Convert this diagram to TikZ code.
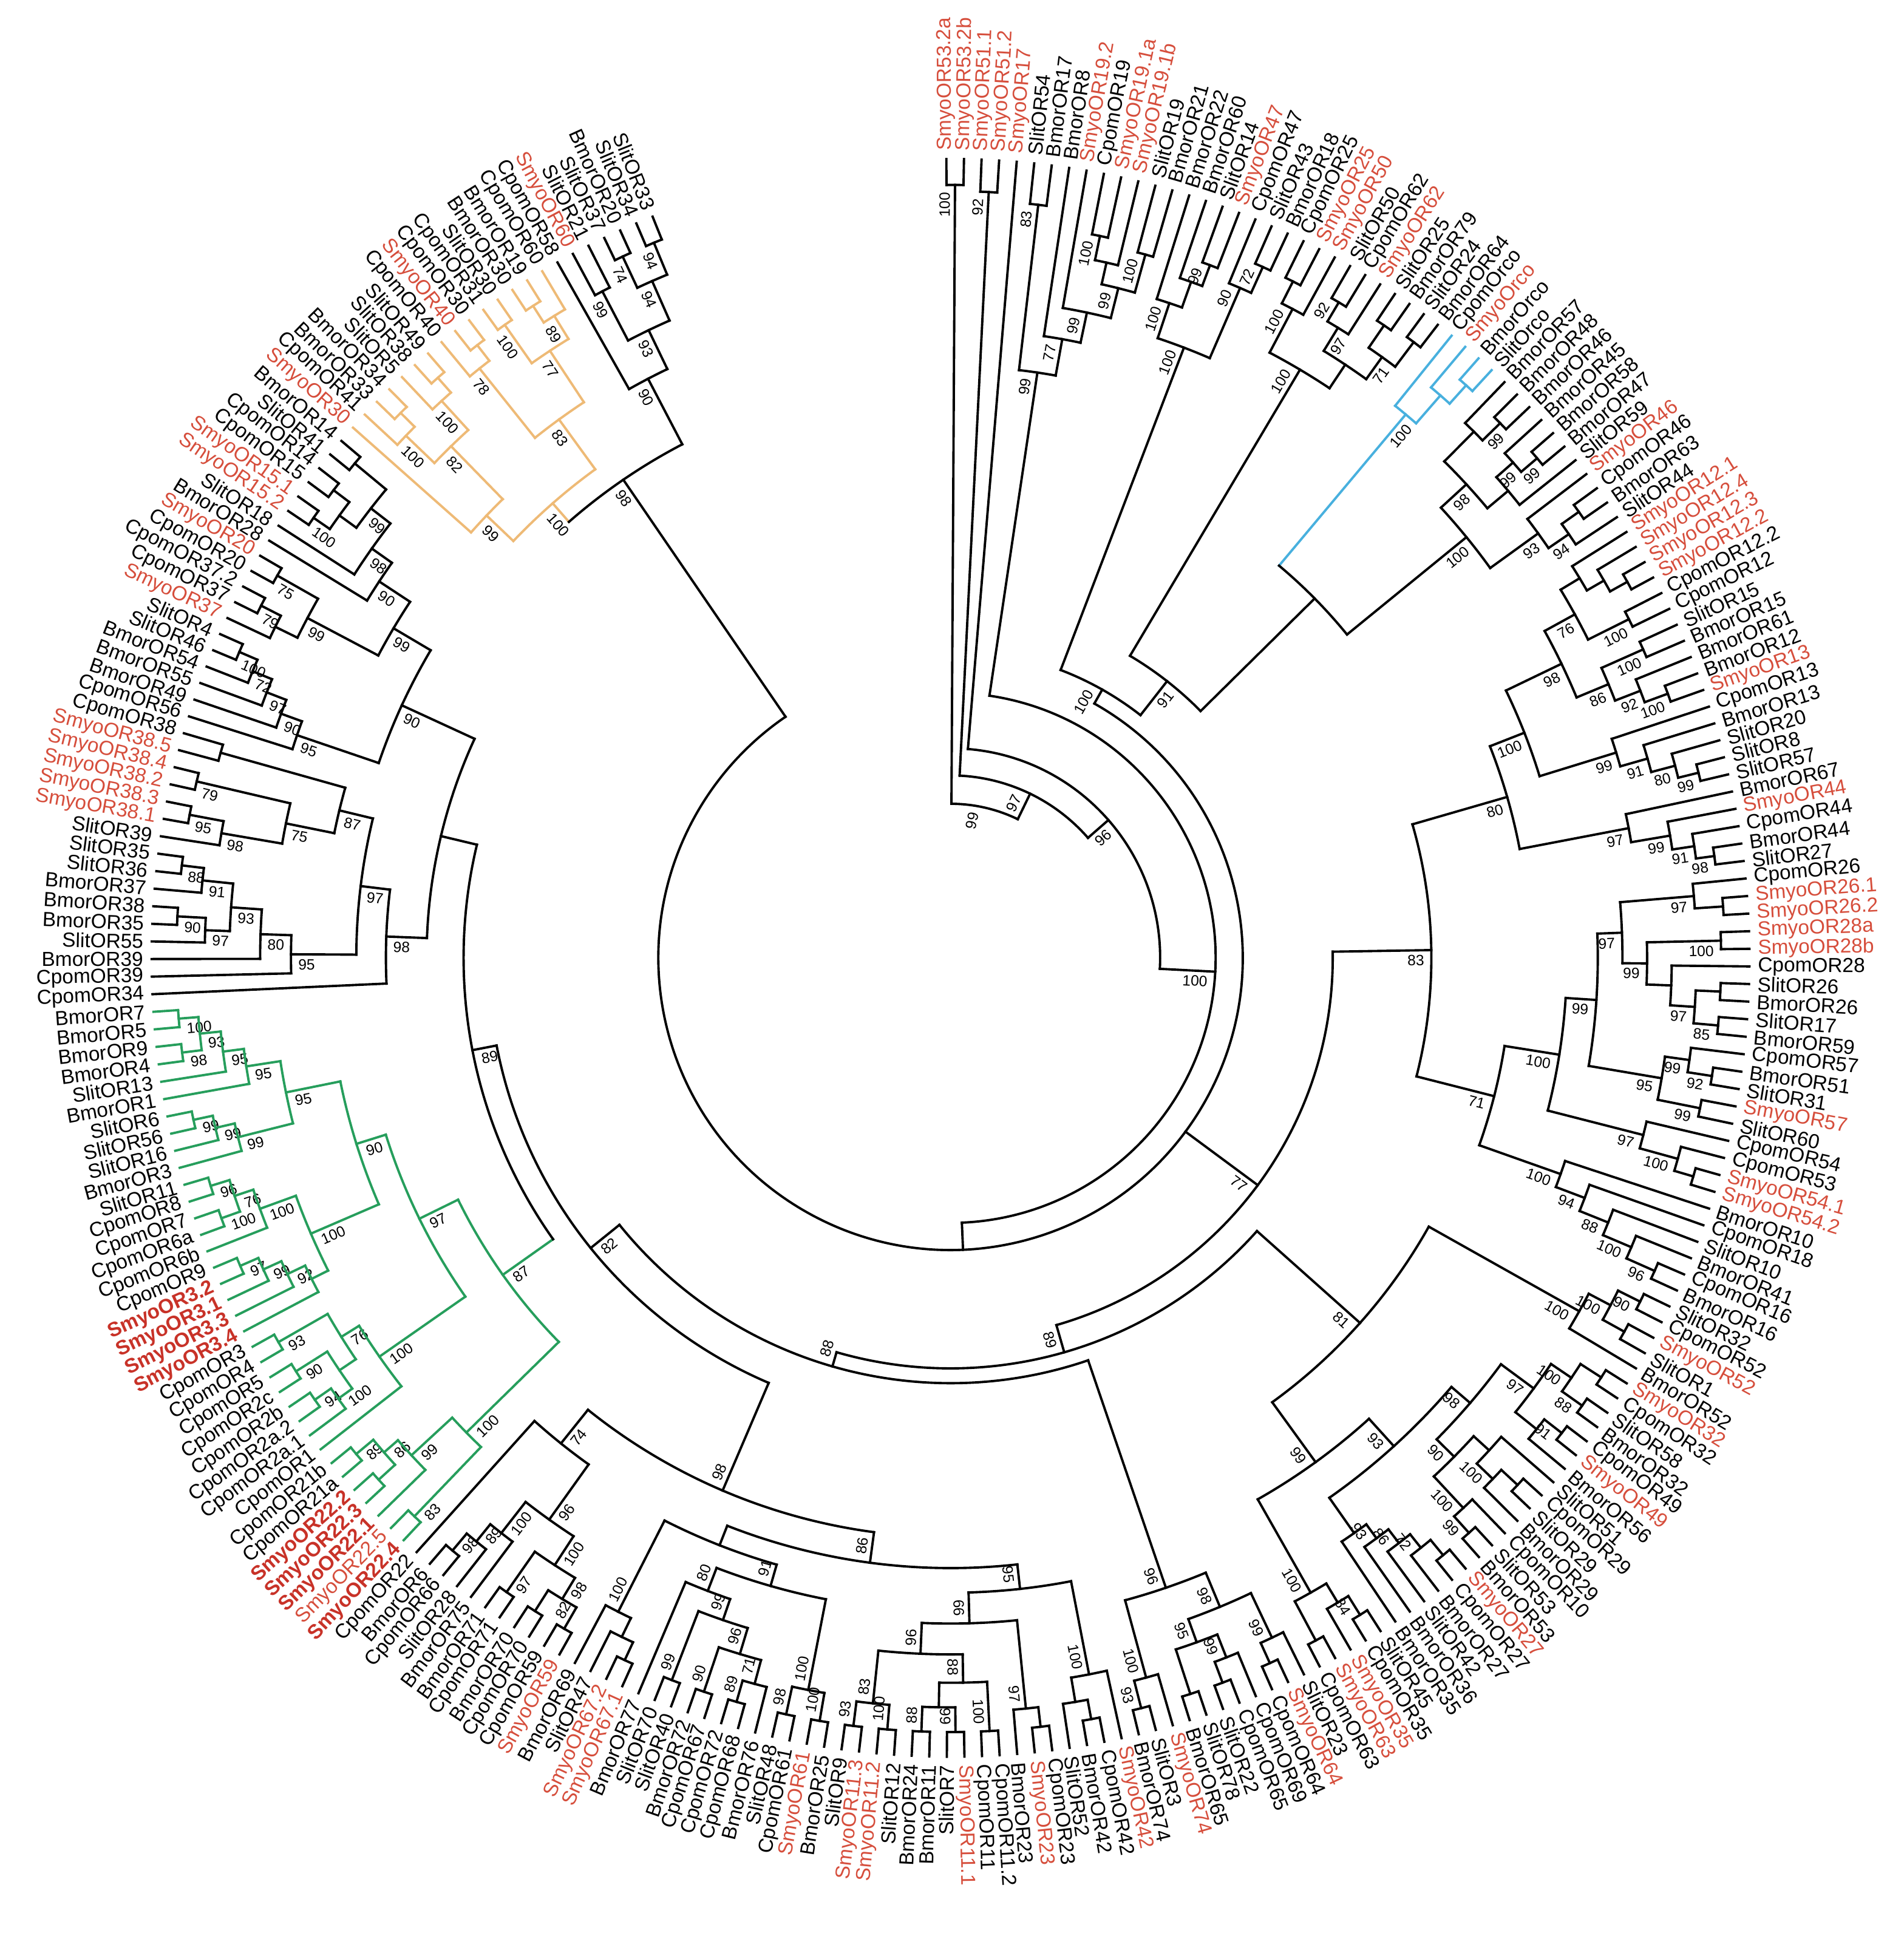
\documentclass[tikz,border=0pt]{standalone}
\usepackage{fontspec}
\setmainfont{Liberation Sans}
\definecolor{smyo}{RGB}{214,78,60}
\definecolor{smyob}{RGB}{200,50,40}
\definecolor{grn}{RGB}{38,158,92}
\definecolor{org}{RGB}{238,186,118}
\definecolor{blu}{RGB}{72,176,222}
\tikzset{
  lk/.style={inner sep=0pt,font=\fontsize{9.5}{10}\selectfont},
  lr/.style={lk,text=smyo},
  lrb/.style={inner sep=0pt,font=\fontsize{9.5}{10}\selectfont\bfseries,text=smyob},
  boot/.style={inner sep=0.6pt,font=\fontsize{7}{7}\selectfont},
}
\def\lstep{1.26269}
\def\tipR{648}
\def\labR{654}
\gdef\curcol{black}
\newcommand\Lf[3]{%
  \pgfmathsetmacro\tA{90.3-(#1-1)*\lstep}%
  \expandafter\xdef\csname TAl#1\endcsname{\tA}%
  \expandafter\xdef\csname TCl#1\endcsname{\curcol}%
  \coordinate (l#1) at (\tA:\tipR);
  \ifdim\tA pt<-90pt
    \pgfmathsetmacro\tR{\tA+180}%
    \node[#2,anchor=east,rotate=\tR] (t#1) at (\tA:\labR) {#3};%
  \else
    \node[#2,anchor=west,rotate=\tA] (t#1) at (\tA:\labR) {#3};%
  \fi
}
\newcommand\Bt[3]{%
  \if\relax\detokenize{#3}\relax\else
  \pgfmathsetmacro\dd{cos(#1)-0.6*sin(#1)}%
  \ifdim\dd pt<0pt \def\sg{1}\else\def\sg{-1}\fi
  \pgfmathsetmacro\bx{(#2-4)*cos(#1)-\sg*2*sin(#1)}%
  \pgfmathsetmacro\by{(#2-4)*sin(#1)+\sg*2*cos(#1)}%
  \ifdim #1pt<-90pt
     \pgfmathsetmacro\rt{#1+180}%
     \ifnum\sg=1 \def\an{north west}\else\def\an{south west}\fi
  \else
     \pgfmathsetmacro\rt{#1}%
     \ifnum\sg=1 \def\an{south east}\else\def\an{north east}\fi
  \fi
  \node[boot,anchor=\an,rotate=\rt] at (\bx,\by) {#3};%
  \fi
}
\newcommand\Cl[4]{%
  \gdef\cF{}%
  \foreach \cx in {#3}{\ifx\cF\empty\xdef\cF{\cx}\fi\xdef\cL{\cx}}%
  \pgfmathsetmacro\aF{\csname TA\cF\endcsname}%
  \pgfmathsetmacro\aL{\csname TA\cL\endcsname}%
  \pgfmathsetmacro\aM{(\aF+\aL)/2}%
  \expandafter\xdef\csname TA#1\endcsname{\aM}%
  \expandafter\xdef\csname TC#1\endcsname{\curcol}%
  \coordinate (#1) at (\aM:#2);
  \foreach \cx in {#3}{%
    \pgfmathsetmacro\aC{\csname TA\cx\endcsname}%
    \edef\cc{\csname TC\cx\endcsname}%
    \draw[draw=\cc] (\aC:#2) -- (\cx);
  }%
  \draw[draw=\curcol] (\aF:#2) arc[start angle=\aF, end angle=\aL, radius=#2];
  \Bt{\aM}{#2}{#4}%
}
\begin{document}
\begin{tikzpicture}[x=0.020311cm,y=0.020311cm,line width=1.1pt,line cap=rect]
\useasboundingbox (-771,-791) rectangle (773,777);
\fill[white] (-771,-791) rectangle (773,777);
% ---------------- leaves ----------------
\Lf{1}{lr}{SmyoOR53.2a}\Lf{2}{lr}{SmyoOR53.2b}\Lf{3}{lr}{SmyoOR51.1}\Lf{4}{lr}{SmyoOR51.2}
\Lf{5}{lr}{SmyoOR17}\Lf{6}{lk}{SlitOR54}\Lf{7}{lk}{BmorOR17}\Lf{8}{lk}{BmorOR8}
\Lf{9}{lr}{SmyoOR19.2}\Lf{10}{lk}{CpomOR19}\Lf{11}{lr}{SmyoOR19.1a}\Lf{12}{lr}{SmyoOR19.1b}
\Lf{13}{lk}{SlitOR19}\Lf{14}{lk}{BmorOR21}\Lf{15}{lk}{BmorOR22}\Lf{16}{lk}{BmorOR60}
\Lf{17}{lk}{SlitOR14}\Lf{18}{lr}{SmyoOR47}\Lf{19}{lk}{CpomOR47}\Lf{20}{lk}{SlitOR43}
\Lf{21}{lk}{BmorOR18}\Lf{22}{lk}{CpomOR25}\Lf{23}{lr}{SmyoOR25}\Lf{24}{lr}{SmyoOR50}
\Lf{25}{lk}{SlitOR50}\Lf{26}{lk}{CpomOR62}\Lf{27}{lr}{SmyoOR62}\Lf{28}{lk}{SlitOR25}
\Lf{29}{lk}{BmorOR79}\Lf{30}{lk}{SlitOR24}\Lf{31}{lk}{BmorOR64}
\gdef\curcol{blu}
\Lf{32}{lk}{CpomOrco}\Lf{33}{lr}{SmyoOrco}\Lf{34}{lk}{BmorOrco}\Lf{35}{lk}{SlitOrco}
\gdef\curcol{black}
\Lf{36}{lk}{BmorOR57}\Lf{37}{lk}{BmorOR48}\Lf{38}{lk}{BmorOR46}\Lf{39}{lk}{BmorOR45}
\Lf{40}{lk}{BmorOR58}\Lf{41}{lk}{BmorOR47}\Lf{42}{lk}{SlitOR59}\Lf{43}{lr}{SmyoOR46}
\Lf{44}{lk}{CpomOR46}\Lf{45}{lk}{BmorOR63}\Lf{46}{lk}{SlitOR44}\Lf{47}{lr}{SmyoOR12.1}
\Lf{48}{lr}{SmyoOR12.4}\Lf{49}{lr}{SmyoOR12.3}\Lf{50}{lr}{SmyoOR12.2}\Lf{51}{lk}{CpomOR12.2}
\Lf{52}{lk}{CpomOR12}\Lf{53}{lk}{SlitOR15}\Lf{54}{lk}{BmorOR15}\Lf{55}{lk}{BmorOR61}
\Lf{56}{lk}{BmorOR12}\Lf{57}{lr}{SmyoOR13}\Lf{58}{lk}{CpomOR13}\Lf{59}{lk}{BmorOR13}
\Lf{60}{lk}{SlitOR20}\Lf{61}{lk}{SlitOR8}\Lf{62}{lk}{SlitOR57}\Lf{63}{lk}{BmorOR67}
\Lf{64}{lr}{SmyoOR44}\Lf{65}{lk}{CpomOR44}\Lf{66}{lk}{BmorOR44}\Lf{67}{lk}{SlitOR27}
\Lf{68}{lk}{CpomOR26}\Lf{69}{lr}{SmyoOR26.1}\Lf{70}{lr}{SmyoOR26.2}\Lf{71}{lr}{SmyoOR28a}
\Lf{72}{lr}{SmyoOR28b}\Lf{73}{lk}{CpomOR28}\Lf{74}{lk}{SlitOR26}\Lf{75}{lk}{BmorOR26}
\Lf{76}{lk}{SlitOR17}\Lf{77}{lk}{BmorOR59}\Lf{78}{lk}{CpomOR57}\Lf{79}{lk}{BmorOR51}
\Lf{80}{lk}{SlitOR31}\Lf{81}{lr}{SmyoOR57}\Lf{82}{lk}{SlitOR60}\Lf{83}{lk}{CpomOR54}
\Lf{84}{lk}{CpomOR53}\Lf{85}{lr}{SmyoOR54.1}\Lf{86}{lr}{SmyoOR54.2}\Lf{87}{lk}{BmorOR10}
\Lf{88}{lk}{CpomOR18}\Lf{89}{lk}{SlitOR10}\Lf{90}{lk}{BmorOR41}\Lf{91}{lk}{CpomOR16}
\Lf{92}{lk}{BmorOR16}\Lf{93}{lk}{SlitOR32}\Lf{94}{lk}{CpomOR52}\Lf{95}{lr}{SmyoOR52}
\Lf{96}{lk}{SlitOR1}\Lf{97}{lk}{BmorOR52}\Lf{98}{lr}{SmyoOR32}\Lf{99}{lk}{CpomOR32}
\Lf{100}{lk}{SlitOR58}\Lf{101}{lk}{BmorOR32}\Lf{102}{lk}{CpomOR49}\Lf{103}{lr}{SmyoOR49}
\Lf{104}{lk}{BmorOR56}\Lf{105}{lk}{SlitOR51}\Lf{106}{lk}{CpomOR29}\Lf{107}{lk}{SlitOR29}
\Lf{108}{lk}{BmorOR29}\Lf{109}{lk}{CpomOR10}\Lf{110}{lk}{SlitOR53}\Lf{111}{lk}{BmorOR53}
\Lf{112}{lr}{SmyoOR27}\Lf{113}{lk}{CpomOR27}\Lf{114}{lk}{BmorOR27}\Lf{115}{lk}{SlitOR42}
\Lf{116}{lk}{BmorOR36}\Lf{117}{lk}{BmorOR35}\Lf{118}{lk}{SlitOR45}\Lf{119}{lk}{CpomOR35}
\Lf{120}{lr}{SmyoOR35}\Lf{121}{lr}{SmyoOR63}\Lf{122}{lk}{CpomOR63}\Lf{123}{lk}{SlitOR23}
\Lf{124}{lr}{SmyoOR64}\Lf{125}{lk}{CpomOR64}\Lf{126}{lk}{CpomOR69}\Lf{127}{lk}{CpomOR65}
\Lf{128}{lk}{SlitOR22}\Lf{129}{lk}{SlitOR78}\Lf{130}{lk}{BmorOR65}\Lf{131}{lr}{SmyoOR74}
\Lf{132}{lk}{SlitOR3}\Lf{133}{lk}{BmorOR74}\Lf{134}{lr}{SmyoOR42}\Lf{135}{lk}{CpomOR42}
\Lf{136}{lk}{BmorOR42}\Lf{137}{lk}{SlitOR52}\Lf{138}{lk}{CpomOR23}\Lf{139}{lr}{SmyoOR23}
\Lf{140}{lk}{BmorOR23}\Lf{141}{lk}{CpomOR11.2}\Lf{142}{lk}{CpomOR11}\Lf{143}{lr}{SmyoOR11.1}
\Lf{144}{lk}{SlitOR7}\Lf{145}{lk}{BmorOR11}\Lf{146}{lk}{BmorOR24}\Lf{147}{lk}{SlitOR12}
\Lf{148}{lr}{SmyoOR11.2}\Lf{149}{lr}{SmyoOR11.3}\Lf{150}{lk}{SlitOR9}\Lf{151}{lk}{BmorOR25}
\Lf{152}{lr}{SmyoOR61}\Lf{153}{lk}{CpomOR61}\Lf{154}{lk}{SlitOR48}\Lf{155}{lk}{BmorOR76}
\Lf{156}{lk}{CpomOR68}\Lf{157}{lk}{CpomOR72}\Lf{158}{lk}{CpomOR67}\Lf{159}{lk}{BmorOR72}
\Lf{160}{lk}{SlitOR40}\Lf{161}{lk}{SlitOR70}\Lf{162}{lk}{BmorOR77}\Lf{163}{lr}{SmyoOR67.1}
\Lf{164}{lr}{SmyoOR67.2}\Lf{165}{lk}{SlitOR47}\Lf{166}{lk}{BmorOR69}\Lf{167}{lr}{SmyoOR59}
\Lf{168}{lk}{CpomOR59}\Lf{169}{lk}{CpomOR70}\Lf{170}{lk}{BmorOR70}\Lf{171}{lk}{CpomOR71}
\Lf{172}{lk}{BmorOR71}\Lf{173}{lk}{BmorOR75}\Lf{174}{lk}{SlitOR28}\Lf{175}{lk}{CpomOR66}
\Lf{176}{lk}{BmorOR6}\Lf{177}{lk}{CpomOR22}
\gdef\curcol{grn}
\Lf{178}{lrb}{SmyoOR22.4}\Lf{179}{lr}{SmyoOR22.5}\Lf{180}{lrb}{SmyoOR22.1}\Lf{181}{lrb}{SmyoOR22.3}
\Lf{182}{lrb}{SmyoOR22.2}\Lf{183}{lk}{CpomOR21a}\Lf{184}{lk}{CpomOR21b}\Lf{185}{lk}{CpomOR1}
\Lf{186}{lk}{CpomOR2a.1}\Lf{187}{lk}{CpomOR2a.2}\Lf{188}{lk}{CpomOR2b}\Lf{189}{lk}{CpomOR2c}
\Lf{190}{lk}{CpomOR5}\Lf{191}{lk}{CpomOR4}\Lf{192}{lk}{CpomOR3}\Lf{193}{lrb}{SmyoOR3.4}
\Lf{194}{lrb}{SmyoOR3.3}\Lf{195}{lrb}{SmyoOR3.1}\Lf{196}{lrb}{SmyoOR3.2}\Lf{197}{lk}{CpomOR9}
\Lf{198}{lk}{CpomOR6b}\Lf{199}{lk}{CpomOR6a}\Lf{200}{lk}{CpomOR7}\Lf{201}{lk}{CpomOR8}
\Lf{202}{lk}{SlitOR11}\Lf{203}{lk}{BmorOR3}\Lf{204}{lk}{SlitOR16}\Lf{205}{lk}{SlitOR56}
\Lf{206}{lk}{SlitOR6}\Lf{207}{lk}{BmorOR1}\Lf{208}{lk}{SlitOR13}\Lf{209}{lk}{BmorOR4}
\Lf{210}{lk}{BmorOR9}\Lf{211}{lk}{BmorOR5}\Lf{212}{lk}{BmorOR7}
\gdef\curcol{black}
\Lf{213}{lk}{CpomOR34}\Lf{214}{lk}{CpomOR39}\Lf{215}{lk}{BmorOR39}\Lf{216}{lk}{SlitOR55}
\Lf{217}{lk}{BmorOR35}\Lf{218}{lk}{BmorOR38}\Lf{219}{lk}{BmorOR37}\Lf{220}{lk}{SlitOR36}
\Lf{221}{lk}{SlitOR35}\Lf{222}{lk}{SlitOR39}\Lf{223}{lr}{SmyoOR38.1}\Lf{224}{lr}{SmyoOR38.3}
\Lf{225}{lr}{SmyoOR38.2}\Lf{226}{lr}{SmyoOR38.4}\Lf{227}{lr}{SmyoOR38.5}\Lf{228}{lk}{CpomOR38}
\Lf{229}{lk}{CpomOR56}\Lf{230}{lk}{BmorOR49}\Lf{231}{lk}{BmorOR55}\Lf{232}{lk}{BmorOR54}
\Lf{233}{lk}{SlitOR46}\Lf{234}{lk}{SlitOR4}\Lf{235}{lr}{SmyoOR37}\Lf{236}{lk}{CpomOR37}
\Lf{237}{lk}{CpomOR37.2}\Lf{238}{lk}{CpomOR20}\Lf{239}{lr}{SmyoOR20}\Lf{240}{lk}{BmorOR28}
\Lf{241}{lk}{SlitOR18}\Lf{242}{lr}{SmyoOR15.2}\Lf{243}{lr}{SmyoOR15.1}\Lf{244}{lk}{CpomOR15}
\Lf{245}{lk}{CpomOR14}\Lf{246}{lk}{SlitOR41}\Lf{247}{lk}{BmorOR14}
\gdef\curcol{org}
\Lf{248}{lr}{SmyoOR30}\Lf{249}{lk}{CpomOR41}\Lf{250}{lk}{BmorOR33}\Lf{251}{lk}{BmorOR34}
\Lf{252}{lk}{SlitOR5}\Lf{253}{lk}{SlitOR38}\Lf{254}{lk}{SlitOR49}\Lf{255}{lk}{CpomOR40}
\Lf{256}{lr}{SmyoOR40}\Lf{257}{lk}{CpomOR30}\Lf{258}{lk}{CpomOR31}\Lf{259}{lk}{SlitOR30}
\Lf{260}{lk}{BmorOR30}\Lf{261}{lk}{BmorOR19}\Lf{262}{lk}{CpomOR60}
\gdef\curcol{black}
\Lf{263}{lk}{CpomOR58}\Lf{264}{lr}{SmyoOR60}\Lf{265}{lk}{SlitOR21}\Lf{266}{lk}{SlitOR37}
\Lf{267}{lk}{BmorOR20}\Lf{268}{lk}{SlitOR34}\Lf{269}{lk}{SlitOR33}
% ---------------- top group ----------------
\Cl{p1}{627}{l1,l2}{100}
\Cl{p2}{622}{l3,l4}{92}
\Cl{p3}{615}{l6,l7}{83}
\Cl{p4}{598}{l10,l11}{100}
\Cl{p5}{578}{p4,l12}{}
\Cl{p6}{592}{l13,l14}{100}
\Cl{p7}{560}{p5,p6}{99}
\Cl{p8}{535}{l9,p7}{99}
\Cl{p9}{510}{l8,p8}{77}
\Cl{p10}{480}{p3,p9}{99}
\Cl{p11}{600}{l17,l18}{99}
\Cl{p12}{582}{l16,p11}{}
\Cl{p13}{560}{l15,p12}{100}
\Cl{p14}{615}{l20,l21}{72}
\Cl{p15}{592}{l19,p14}{90}
\Cl{p16}{530}{p13,p15}{100}
\Cl{p17}{615}{l22,l23}{}
\Cl{p18}{595}{p17,l24}{100}
\Cl{p19}{618}{l25,l26}{92}
\Cl{p20}{600}{p19,l27}{97}
\Cl{p21}{622}{l28,l29}{}
\Cl{p22}{625}{l30,l31}{}
\Cl{p23}{600}{p21,p22}{71}
\Cl{p24}{578}{p20,p23}{}
\Cl{p25}{555}{p18,p24}{100}
\gdef\curcol{blu}
\Cl{o1}{625}{l34,l35}{}
\Cl{o2}{605}{l33,o1}{}
\Cl{o3}{575}{l32,o2}{100}
\gdef\curcol{black}
\Cl{a1}{622}{l37,l38}{99}
\Cl{a2}{602}{l36,a1}{}
\Cl{a3}{625}{l40,l41}{99}
\Cl{a4}{608}{l39,a3}{99}
\Cl{a5}{590}{a4,l42}{}
\Cl{a6}{568}{a2,a5}{98}
\Cl{a7}{625}{l44,l45}{}
\Cl{a8}{608}{a7,l46}{94}
\Cl{a9}{588}{l43,a8}{93}
\Cl{a10}{540}{a6,a9}{100}
\Cl{b1}{628}{l49,l50}{}
\Cl{b2}{612}{l48,b1}{}
\Cl{b3}{596}{l47,b2}{}
\Cl{b4}{615}{l51,l52}{100}
\Cl{b5}{578}{b3,b4}{76}
\Cl{b6}{615}{l53,l54}{100}
\Cl{b7}{620}{l56,l57}{100}
\Cl{b8}{600}{l55,b7}{92}
\Cl{b9}{578}{b6,b8}{86}
\Cl{b10}{550}{b5,b9}{98}
\Cl{b11}{625}{l61,l62}{99}
\Cl{b12}{608}{l60,b11}{80}
\Cl{b13}{588}{l59,b12}{91}
\Cl{b14}{565}{l58,b13}{99}
\Cl{b15}{500}{b10,b14}{100}
\Cl{c1}{625}{l66,l67}{98}
\Cl{c2}{610}{l65,c1}{91}
\Cl{c3}{592}{l64,c2}{99}
\Cl{c4}{560}{l63,c3}{97}
\Cl{d1}{628}{l69,l70}{}
\Cl{d2}{605}{l68,d1}{97}
\Cl{d3}{625}{l71,l72}{100}
\Cl{d4}{625}{l74,l75}{}
\Cl{d5}{625}{l76,l77}{85}
\Cl{d6}{605}{d4,d5}{97}
\Cl{d7}{585}{l73,d6}{}
\Cl{d8}{565}{d3,d7}{99}
\Cl{d9}{545}{d2,d8}{97}
\Cl{d10}{625}{l79,l80}{92}
\Cl{d11}{605}{l78,d10}{99}
\Cl{d12}{620}{l81,l82}{99}
\Cl{d13}{585}{d11,d12}{95}
\Cl{d14}{525}{d9,d13}{99}
\Cl{e1}{628}{l85,l86}{}
\Cl{e2}{612}{l84,e1}{100}
\Cl{e3}{580}{l83,e2}{97}
\Cl{f1}{625}{l91,l92}{96}
\Cl{f2}{600}{l90,f1}{100}
\Cl{f3}{575}{l89,f2}{88}
\Cl{f4}{550}{l88,f3}{94}
\Cl{f5}{525}{l87,f4}{100}
\Cl{y1}{625}{l93,l94}{90}
\Cl{y2}{625}{l95,l96}{}
\Cl{y3}{605}{y1,y2}{100}
\Cl{y4}{585}{y3,l97}{100}
\Cl{h1}{628}{l98,l99}{}
\Cl{h2}{628}{l100,l101}{88}
\Cl{h3}{608}{h1,h2}{100}
\Cl{h4}{628}{l102,l103}{91}
\Cl{h5}{610}{h4,l104}{}
\Cl{h6}{588}{h3,h5}{97}
\Cl{h7}{628}{l106,l107}{}
\Cl{h8}{610}{h7,l108}{100}
\Cl{h9}{592}{l105,h8}{}
\Cl{h10}{628}{l110,l111}{99}
\Cl{h11}{610}{l109,h10}{100}
\Cl{h12}{575}{h9,h11}{90}
\Cl{h13}{555}{h6,h12}{98}
\Cl{h14}{628}{l112,l113}{}
\Cl{h15}{612}{h14,l114}{72}
\Cl{h16}{598}{h15,l115}{86}
\Cl{h17}{584}{h16,l116}{93}
\Cl{h18}{570}{h17,l117}{}
\Cl{h19}{535}{h13,h18}{93}
\Cl{h20}{628}{l118,l119}{84}
\Cl{h21}{610}{h20,l120}{}
\Cl{h22}{628}{l121,l122}{}
\Cl{h23}{592}{h21,h22}{100}
\Cl{h24}{505}{h19,h23}{99}
\Cl{i1}{628}{l124,l125}{}
\Cl{i2}{610}{l123,i1}{99}
\Cl{i3}{628}{l127,l128}{}
\Cl{i4}{610}{l126,i3}{99}
\Cl{i5}{628}{l129,l130}{}
\Cl{i6}{590}{i4,i5}{95}
\Cl{i7}{570}{i2,i6}{98}
\Cl{jD}{628}{l132,l133}{93}
\Cl{jE}{605}{l131,jD}{100}
\Cl{jA}{628}{l135,l136}{}
\Cl{jB}{612}{jA,l137}{}
\Cl{jC}{592}{l134,jB}{100}
\Cl{q1}{628}{l138,l139}{}
\Cl{q2}{612}{q1,l140}{97}
\Cl{q3}{628}{l141,l142}{100}
\Cl{q4}{628}{l143,l144}{99}
\Cl{q5}{628}{l145,l146}{88}
\Cl{q6}{608}{q4,q5}{}
\Cl{q7}{588}{q3,q6}{88}
\Cl{q8}{628}{l147,l148}{100}
\Cl{q9}{628}{l149,l150}{93}
\Cl{q10}{608}{q8,q9}{83}
\Cl{QA}{565}{q7,q10}{96}
\Cl{QB}{540}{q2,QA}{66}
\Cl{QD}{515}{jC,QB}{95}
\Cl{s1}{628}{l151,l152}{100}
\Cl{s2}{628}{l153,l154}{98}
\Cl{s3}{605}{s1,s2}{100}
\Cl{s4}{628}{l156,l157}{89}
\Cl{s5}{610}{l155,s4}{71}
\Cl{s6}{628}{l158,l159}{90}
\Cl{s7}{590}{s5,s6}{96}
\Cl{s8}{628}{l160,l161}{99}
\Cl{s9}{568}{s7,s8}{99}
\Cl{s10}{550}{s9,l162}{80}
\Cl{S}{530}{s3,s10}{91}
\Cl{s11}{628}{l163,l164}{}
\Cl{s12}{612}{s11,l165}{}
\Cl{s13}{595}{s12,l166}{100}
\Cl{S2}{512}{S,s13}{}
\Cl{N86}{495}{QD,S2}{86}
\Cl{bl1}{628}{l167,l168}{82}
\Cl{bl2}{628}{l169,l170}{}
\Cl{bl3}{608}{bl1,bl2}{98}
\Cl{bl4}{628}{l171,l172}{97}
\Cl{bl5}{588}{bl3,bl4}{100}
\Cl{bl6}{628}{l175,l176}{98}
\Cl{bl7}{610}{l174,bl6}{89}
\Cl{bl8}{592}{l173,bl7}{100}
\Cl{bl9}{560}{bl5,bl8}{96}
\Cl{BLg}{505}{bl9,l177}{74}
\Cl{N98}{470}{N86,BLg}{98}
\gdef\curcol{grn}
\Cl{gh1}{628}{l178,l179}{83}
\Cl{gh2}{628}{l183,l184}{89}
\Cl{gh3}{628}{l181,l182}{}
\Cl{gh4}{610}{gh3,gh2}{86}
\Cl{gh5}{595}{l180,gh4}{99}
\Cl{gh6}{550}{gh1,gh5}{100}
\Cl{gg1}{628}{l191,l192}{93}
\Cl{gg2}{628}{l189,l190}{90}
\Cl{gg3}{628}{l187,l188}{94}
\Cl{gg4}{612}{l186,gg3}{100}
\Cl{gg5}{598}{gg4,gg2}{}
\Cl{gg6}{582}{gg5,gg1}{76}
\Cl{gg7}{565}{l185,gg6}{100}
\Cl{ge1}{628}{l196,l197}{97}
\Cl{ge2}{612}{l195,ge1}{99}
\Cl{ge3}{596}{l194,ge2}{92}
\Cl{ge4}{580}{l193,ge3}{}
\Cl{gd1}{628}{l201,l202}{96}
\Cl{gd2}{628}{l199,l200}{100}
\Cl{gd3}{612}{gd2,gd1}{76}
\Cl{gd4}{596}{l198,gd3}{100}
\Cl{gEF}{565}{ge4,gd4}{100}
\Cl{gb1}{628}{l205,l206}{99}
\Cl{gb2}{612}{l204,gb1}{99}
\Cl{gb3}{596}{l203,gb2}{99}
\Cl{ga1}{628}{l211,l212}{100}
\Cl{ga2}{628}{l209,l210}{98}
\Cl{ga3}{612}{ga2,ga1}{93}
\Cl{ga4}{595}{l208,ga3}{95}
\Cl{ga5}{578}{l207,ga4}{95}
\Cl{gD}{550}{gb3,ga5}{95}
\Cl{gE}{505}{gEF,gD}{90}
\Cl{gF}{480}{gg7,gE}{97}
\Cl{GR}{445}{gh6,gF}{87}
\gdef\curcol{black}
% ---------------- left ----------------
\Cl{m1}{628}{l220,l221}{88}
\Cl{m2}{610}{l219,m1}{91}
\Cl{m3}{628}{l217,l218}{90}
\Cl{m4}{605}{l216,m3}{97}
\Cl{m5}{585}{m4,m2}{93}
\Cl{m6}{560}{l215,m5}{80}
\Cl{m7}{535}{l214,m6}{95}
\Cl{k1}{628}{l223,l224}{95}
\Cl{k2}{600}{l222,k1}{98}
\Cl{k3}{628}{l225,l226}{79}
\Cl{k4}{550}{k2,k3}{75}
\Cl{k5}{615}{l227,l228}{}
\Cl{k6}{510}{k4,k5}{87}
\Cl{m8}{482}{m7,k6}{97}
\Cl{v3}{458}{l213,m8}{98}
\Cl{sL1}{628}{l233,l234}{100}
\Cl{sL2}{612}{l232,sL1}{72}
\Cl{sL3}{595}{l231,sL2}{97}
\Cl{sL4}{578}{l230,sL3}{90}
\Cl{sL5}{560}{l229,sL4}{95}
\Cl{tL1}{628}{l236,l237}{79}
\Cl{tL2}{610}{l235,tL1}{}
\Cl{tL3}{628}{l238,l239}{75}
\Cl{tL4}{590}{tL2,tL3}{99}
\Cl{uL1}{628}{l242,l243}{100}
\Cl{uL2}{628}{l244,l245}{}
\Cl{uL3}{612}{uL1,uL2}{}
\Cl{uL4}{628}{l246,l247}{}
\Cl{uL5}{595}{uL3,uL4}{99}
\Cl{uL6}{575}{l241,uL5}{98}
\Cl{uL7}{555}{l240,uL6}{90}
\Cl{uL8}{525}{tL4,uL7}{99}
\Cl{v1}{490}{sL5,uL8}{90}
\gdef\curcol{org}
\Cl{w1}{628}{l260,l261}{}
\Cl{w2}{612}{w1,l262}{89}
\Cl{w3}{628}{l258,l259}{100}
\Cl{w4}{590}{w3,w2}{77}
\Cl{w5}{628}{l256,l257}{}
\Cl{w6}{612}{l255,w5}{78}
\Cl{w17}{540}{w6,w4}{83}
\Cl{w7}{628}{l253,l254}{}
\Cl{w8}{612}{l252,w7}{100}
\Cl{w10}{628}{l250,l251}{}
\Cl{w11}{612}{l249,w10}{100}
\Cl{w9}{580}{w11,w8}{82}
\Cl{w14}{520}{l248,w9}{99}
\Cl{w16}{490}{w14,w17}{100}
\gdef\curcol{black}
\Cl{x1}{628}{l268,l269}{94}
\Cl{x2}{628}{l266,l267}{74}
\Cl{x3}{600}{x2,x1}{94}
\Cl{x4}{610}{l264,l265}{99}
\Cl{x5}{565}{x4,x3}{93}
\Cl{x6}{530}{l263,x5}{90}
\Cl{TL}{470}{w16,x6}{98}
% ---------------- backbone ----------------
\Cl{R1}{415}{o3,a10}{}
\Cl{G91}{285}{p25,R1}{91}
\Cl{G}{250}{p16,G91}{100}
\Cl{N80}{470}{b15,c4}{80}
\Cl{D}{500}{d14,e3}{100}
\Cl{N71}{455}{D,f5}{71}
\Cl{N83}{390}{N80,N71}{83}
\Cl{IJ}{540}{i7,jE}{96}
\Cl{N81}{445}{y4,h24}{81}
\Cl{L1b}{425}{v3,v1}{}
\Cl{L1}{395}{GR,L1b}{89}
\Cl{L2}{375}{N98,L1}{82}
\Cl{L3}{345}{IJ,L2}{88}
\Cl{L4}{333}{N81,L3}{89}
\Cl{N77}{310}{N83,L4}{77}
\Cl{Z}{237}{G,N77,TL}{}
\Cl{C4}{215}{p10,Z}{100}
\Cl{C3}{170}{l5,C4}{96}
\Cl{C2}{148}{p2,C3}{97}
\Cl{C1}{125}{p1,C2}{99}
\end{tikzpicture}
\end{document}
